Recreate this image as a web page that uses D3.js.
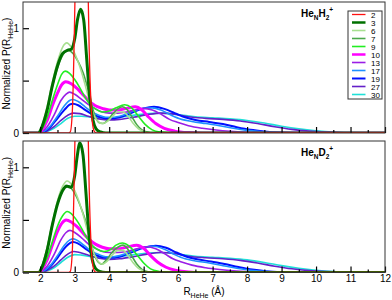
<!DOCTYPE html>
<html>
<head>
<meta charset="utf-8">
<script src="https://cdn.jsdelivr.net/npm/d3@7"></script>
<style>
  body { margin: 0; background: #fff; }
  svg { font-family: "Liberation Sans", Arial, sans-serif; }
</style>
</head>
<body>
<svg id="chart" width="392" height="300"></svg>
<script>
// legend names (number of He atoms)
var seriesNames = ["2", "3", "6", "7", "9", "10", "13", "17", "19", "27", "30"];
var colors = ["#ff1010", "#007000", "#a8e090", "#4aa84a", "#22ee22", "#ff00ff", "#9a1ee6", "#1e90ff", "#0010ff", "#6420c8", "#20e0d8"];
var widths = [1.3, 3, 1.6, 1.6, 1.6, 3, 1.6, 1.6, 2, 1.6, 1.6];

var xMajor = [2, 3, 4, 5, 6, 7, 8, 9, 10, 11, 12];
var xMinor = [2.5, 3.5, 4.5, 5.5, 6.5, 7.5, 8.5, 9.5, 10.5, 11.5];
var yTicks = [0, 0.5, 1];
var yLabels = ["0", "", "1"];

// He_N H2+  : [R, P]
var h2_n2 = [[1.5,0],[2.8,0],[2.87,0.01],[2.93,0.2],[2.98,0.8],[3.02,1.5],[3.08,2.7],[3.14,3.6],[3.2,3.9],[3.26,3.6],[3.32,2.7],[3.38,1.5],[3.42,0.8],[3.47,0.3],[3.52,0.08],[3.58,0.01],[3.65,0],[12,0]];
var h2_n3 = [[1.5,0],[1.95,0],[2.05,0.06],[2.2,0.22],[2.35,0.45],[2.5,0.64],[2.65,0.76],[2.8,0.79],[2.9,0.8],[3.0,0.9],[3.08,1.08],[3.17,1.18],[3.26,1.08],[3.35,0.7],[3.44,0.32],[3.53,0.12],[3.62,0.04],[3.75,0.01],[3.9,0],[12,0]];
var h2_n6 = [[1.5,0],[1.95,0],[2.05,0.07],[2.2,0.25],[2.35,0.48],[2.5,0.68],[2.65,0.82],[2.77,0.86],[2.9,0.82],[3.05,0.72],[3.2,0.58],[3.35,0.4],[3.5,0.22],[3.65,0.12],[3.8,0.09],[3.95,0.11],[4.1,0.16],[4.25,0.2],[4.4,0.2],[4.55,0.16],[4.7,0.09],[4.85,0.04],[5.0,0.015],[5.2,0],[12,0]];
var h2_n7 = [[1.5,0],[1.95,0],[2.05,0.06],[2.2,0.22],[2.35,0.44],[2.5,0.62],[2.65,0.74],[2.8,0.79],[2.95,0.76],[3.1,0.68],[3.25,0.57],[3.4,0.4],[3.55,0.2],[3.7,0.1],[3.82,0.09],[3.95,0.12],[4.1,0.18],[4.25,0.23],[4.38,0.25],[4.5,0.23],[4.65,0.16],[4.8,0.08],[4.95,0.03],[5.1,0.01],[5.3,0],[12,0]];
var h2_n9 = [[1.5,0],[1.95,0],[2.05,0.04],[2.2,0.15],[2.35,0.31],[2.5,0.46],[2.62,0.56],[2.72,0.59],[2.85,0.57],[3.0,0.51],[3.15,0.43],[3.3,0.34],[3.45,0.27],[3.6,0.23],[3.8,0.2],[4.0,0.21],[4.2,0.24],[4.45,0.27],[4.65,0.24],[4.85,0.16],[5.05,0.08],[5.25,0.03],[5.5,0.008],[5.8,0],[12,0]];
var h2_n10 = [[1.5,0],[1.95,0],[2.05,0.03],[2.2,0.12],[2.35,0.26],[2.5,0.38],[2.62,0.46],[2.74,0.49],[2.9,0.47],[3.05,0.43],[3.2,0.38],[3.4,0.31],[3.6,0.26],[3.8,0.235],[4.0,0.22],[4.25,0.22],[4.5,0.235],[4.75,0.25],[4.95,0.22],[5.15,0.15],[5.35,0.09],[5.6,0.045],[5.9,0.018],[6.3,0.004],[6.7,0],[12,0]];
var h2_n13 = [[1.5,0],[1.95,0],[2.05,0.015],[2.2,0.06],[2.4,0.17],[2.6,0.31],[2.75,0.37],[2.85,0.39],[3.0,0.37],[3.2,0.32],[3.4,0.27],[3.6,0.23],[3.8,0.2],[4.0,0.19],[4.25,0.19],[4.5,0.2],[4.75,0.22],[5.0,0.235],[5.25,0.22],[5.5,0.18],[5.75,0.13],[6.0,0.1],[6.3,0.07],[6.7,0.045],[7.1,0.028],[7.5,0.016],[8.0,0.007],[8.6,0.002],[9.2,0],[12,0]];
var h2_n17 = [[1.5,0],[1.95,0],[2.1,0.015],[2.3,0.07],[2.5,0.16],[2.7,0.26],[2.85,0.31],[2.95,0.32],[3.1,0.3],[3.3,0.25],[3.5,0.2],[3.7,0.17],[3.9,0.15],[4.1,0.15],[4.4,0.17],[4.7,0.21],[5.0,0.235],[5.25,0.24],[5.5,0.22],[5.8,0.17],[6.1,0.13],[6.4,0.11],[6.8,0.09],[7.2,0.07],[7.6,0.045],[8.0,0.025],[8.5,0.01],[9.0,0.003],[9.5,0],[12,0]];
var h2_n19 = [[1.5,0],[1.95,0],[2.1,0.012],[2.3,0.06],[2.5,0.14],[2.7,0.22],[2.85,0.27],[2.95,0.28],[3.1,0.265],[3.3,0.22],[3.5,0.18],[3.7,0.155],[3.9,0.14],[4.1,0.14],[4.4,0.16],[4.7,0.2],[5.0,0.235],[5.3,0.25],[5.6,0.23],[5.9,0.19],[6.2,0.15],[6.5,0.125],[6.9,0.105],[7.3,0.085],[7.7,0.055],[8.1,0.03],[8.5,0.015],[9.0,0.004],[9.5,0],[12,0]];
var h2_n27 = [[1.5,0],[2.0,0],[2.2,0.02],[2.4,0.06],[2.6,0.12],[2.8,0.17],[2.96,0.19],[3.15,0.185],[3.4,0.16],[3.7,0.135],[4.0,0.125],[4.3,0.13],[4.7,0.15],[5.1,0.175],[5.5,0.19],[5.9,0.18],[6.3,0.155],[6.8,0.14],[7.3,0.13],[7.8,0.115],[8.3,0.09],[8.8,0.06],[9.3,0.035],[9.8,0.018],[10.3,0.008],[10.8,0.002],[11.3,0],[12,0]];
var h2_n30 = [[1.5,0],[2.0,0],[2.2,0.015],[2.4,0.045],[2.6,0.09],[2.8,0.14],[3.0,0.16],[3.2,0.16],[3.5,0.15],[3.8,0.145],[4.1,0.145],[4.5,0.16],[5.0,0.18],[5.5,0.19],[6.0,0.175],[6.5,0.155],[7.0,0.145],[7.5,0.135],[8.0,0.12],[8.5,0.095],[9.0,0.065],[9.5,0.04],[10.0,0.022],[10.5,0.01],[11.0,0.004],[11.5,0.001],[12,0]];

// He_N D2+
var d2_n2 = [[1.5,0],[2.8,0],[2.87,0.01],[2.93,0.2],[2.98,0.8],[3.02,1.5],[3.08,2.8],[3.14,3.7],[3.2,4.0],[3.26,3.7],[3.32,2.8],[3.38,1.5],[3.42,0.8],[3.47,0.3],[3.52,0.08],[3.58,0.01],[3.65,0],[12,0]];
var d2_n3 = [[1.5,0],[1.95,0],[2.05,0.05],[2.2,0.21],[2.35,0.45],[2.5,0.65],[2.65,0.78],[2.78,0.82],[2.9,0.81],[3.0,0.92],[3.07,1.1],[3.15,1.23],[3.24,1.12],[3.33,0.74],[3.42,0.34],[3.51,0.12],[3.6,0.04],[3.72,0.01],[3.9,0],[12,0]];
var d2_n6 = [[1.5,0],[1.95,0],[2.05,0.06],[2.2,0.24],[2.35,0.47],[2.5,0.68],[2.65,0.82],[2.78,0.87],[2.92,0.83],[3.05,0.74],[3.2,0.6],[3.35,0.42],[3.5,0.23],[3.65,0.12],[3.8,0.08],[3.95,0.11],[4.1,0.17],[4.25,0.21],[4.4,0.21],[4.55,0.16],[4.7,0.09],[4.85,0.04],[5.0,0.015],[5.2,0],[12,0]];
var d2_n7 = [[1.5,0],[1.95,0],[2.05,0.06],[2.2,0.23],[2.35,0.46],[2.5,0.65],[2.63,0.77],[2.75,0.83],[2.9,0.8],[3.05,0.72],[3.2,0.6],[3.38,0.42],[3.53,0.21],[3.68,0.1],[3.78,0.08],[3.92,0.12],[4.08,0.19],[4.25,0.24],[4.4,0.26],[4.52,0.23],[4.65,0.16],[4.8,0.08],[4.95,0.03],[5.1,0.01],[5.3,0],[12,0]];
var d2_n9 = [[1.5,0],[1.95,0],[2.05,0.04],[2.2,0.14],[2.35,0.29],[2.5,0.44],[2.65,0.54],[2.78,0.58],[2.9,0.56],[3.05,0.5],[3.2,0.42],[3.35,0.33],[3.5,0.26],[3.65,0.22],[3.85,0.2],[4.05,0.22],[4.2,0.26],[4.38,0.28],[4.58,0.25],[4.8,0.17],[5.0,0.09],[5.2,0.035],[5.45,0.01],[5.8,0],[12,0]];
var d2_n10 = [[1.5,0],[1.95,0],[2.05,0.03],[2.2,0.12],[2.35,0.26],[2.5,0.39],[2.63,0.47],[2.75,0.5],[2.9,0.48],[3.05,0.44],[3.2,0.39],[3.4,0.32],[3.6,0.27],[3.8,0.24],[4.0,0.225],[4.25,0.225],[4.5,0.24],[4.8,0.26],[5.0,0.23],[5.2,0.16],[5.4,0.1],[5.65,0.05],[5.95,0.02],[6.3,0.005],[6.7,0],[12,0]];
var d2_n13 = [[1.5,0],[1.95,0],[2.05,0.015],[2.2,0.06],[2.4,0.17],[2.6,0.31],[2.75,0.38],[2.86,0.4],[3.0,0.38],[3.2,0.33],[3.4,0.27],[3.6,0.23],[3.8,0.2],[4.0,0.19],[4.25,0.19],[4.5,0.2],[4.8,0.225],[5.1,0.245],[5.35,0.225],[5.6,0.18],[5.85,0.13],[6.1,0.1],[6.4,0.07],[6.8,0.045],[7.2,0.028],[7.6,0.015],[8.1,0.006],[8.7,0.001],[9.2,0],[12,0]];
var d2_n17 = [[1.5,0],[1.95,0],[2.1,0.015],[2.3,0.07],[2.5,0.16],[2.7,0.26],[2.86,0.31],[2.96,0.32],[3.1,0.3],[3.3,0.25],[3.5,0.2],[3.7,0.17],[3.9,0.15],[4.1,0.15],[4.4,0.17],[4.7,0.21],[5.0,0.24],[5.3,0.25],[5.6,0.22],[5.9,0.17],[6.2,0.13],[6.5,0.11],[6.9,0.09],[7.3,0.065],[7.7,0.04],[8.1,0.022],[8.6,0.008],[9.1,0.002],[9.5,0],[12,0]];
var d2_n19 = [[1.5,0],[1.95,0],[2.1,0.012],[2.3,0.06],[2.5,0.14],[2.7,0.23],[2.86,0.28],[2.96,0.29],[3.1,0.275],[3.3,0.23],[3.5,0.185],[3.7,0.155],[3.9,0.14],[4.1,0.14],[4.4,0.16],[4.7,0.2],[5.0,0.235],[5.35,0.255],[5.65,0.235],[5.95,0.19],[6.25,0.15],[6.55,0.125],[6.95,0.105],[7.35,0.08],[7.75,0.052],[8.15,0.028],[8.55,0.013],[9.0,0.004],[9.5,0],[12,0]];
var d2_n27 = [[1.5,0],[2.0,0],[2.2,0.02],[2.4,0.06],[2.6,0.12],[2.8,0.175],[2.97,0.2],[3.15,0.19],[3.4,0.165],[3.7,0.135],[4.0,0.125],[4.3,0.13],[4.7,0.15],[5.1,0.175],[5.5,0.19],[5.9,0.18],[6.3,0.155],[6.8,0.14],[7.3,0.13],[7.8,0.115],[8.3,0.09],[8.8,0.06],[9.3,0.035],[9.8,0.018],[10.3,0.008],[10.8,0.002],[11.3,0],[12,0]];
var d2_n30 = [[1.5,0],[2.0,0],[2.2,0.015],[2.4,0.045],[2.6,0.095],[2.8,0.145],[3.0,0.17],[3.2,0.165],[3.5,0.15],[3.8,0.145],[4.1,0.145],[4.5,0.16],[5.0,0.18],[5.5,0.19],[6.0,0.175],[6.5,0.155],[7.0,0.145],[7.5,0.135],[8.0,0.12],[8.5,0.095],[9.0,0.065],[9.5,0.04],[10.0,0.022],[10.5,0.01],[11.0,0.004],[11.5,0.001],[12,0]];

var h2Series = [h2_n2, h2_n3, h2_n6, h2_n7, h2_n9, h2_n10, h2_n13, h2_n17, h2_n19, h2_n27, h2_n30];
var d2Series = [d2_n2, d2_n3, d2_n6, d2_n7, d2_n9, d2_n10, d2_n13, d2_n17, d2_n19, d2_n27, d2_n30];

var svg = d3.select("#chart");
var left = 23, right = 385;
var panels = [
    {top: 2, bottom: 133, series: h2Series, isotope: "H", showX: false, legend: true},
    {top: 141, bottom: 272.5, series: d2Series, isotope: "D", showX: true, legend: false}
];

var x = d3.scaleLinear().domain([1.5, 12]).range([left, right]);

panels.forEach(function(p, pi) {
    var y = d3.scaleLinear().domain([0, 1.25]).range([p.bottom, p.top]);
    var g = svg.append("g");

    g.append("clipPath").attr("id", "clip" + pi)
        .append("rect")
        .attr("x", left).attr("y", p.top)
        .attr("width", right - left).attr("height", p.bottom - p.top);

    var line = d3.line()
        .x(function(d) { return x(d[0]); })
        .y(function(d) { return y(d[1]); })
        .curve(d3.curveMonotoneX);

    // draw back to front, small N on top
    var order = d3.range(p.series.length).reverse();
    var curves = g.append("g").attr("clip-path", "url(#clip" + pi + ")");
    order.forEach(function(i) {
        curves.append("path")
            .datum(p.series[i])
            .attr("d", line)
            .attr("fill", "none")
            .attr("stroke", colors[i])
            .attr("stroke-width", widths[i])
            .attr("stroke-linejoin", "round");
    });

    // axes, ticks inside
    var xAxis = d3.axisBottom(x).tickValues(xMajor).tickSizeInner(-6).tickSizeOuter(0).tickPadding(2);
    if (!p.showX) xAxis.tickFormat("");
    var xa = g.append("g").attr("transform", "translate(0," + p.bottom + ")").call(xAxis);
    var xm = g.append("g").attr("transform", "translate(0," + p.bottom + ")")
        .call(d3.axisBottom(x).tickValues(xMinor).tickSizeInner(-3).tickSizeOuter(0).tickFormat(""));
    xm.select(".domain").remove();

    var ya = g.append("g").attr("transform", "translate(" + left + ",0)")
        .call(d3.axisLeft(y).tickValues(yTicks).tickSizeInner(-6).tickSizeOuter(0).tickPadding(4)
            .tickFormat(function(d, i) { return yLabels[i]; }));

    [xa, ya].forEach(function(a) {
        a.selectAll(".domain").remove();
        a.selectAll("text").attr("font-size", 10).attr("fill", "#000")
            .attr("font-family", "Liberation Sans, Arial, sans-serif");
        a.selectAll(".tick line").attr("stroke", "#000").attr("stroke-width", 1.2);
    });
    xm.selectAll(".tick line").attr("stroke", "#000").attr("stroke-width", 1.2);

    // frame
    g.append("rect")
        .attr("x", left).attr("y", p.top)
        .attr("width", right - left).attr("height", p.bottom - p.top)
        .attr("fill", "none").attr("stroke", "#333").attr("stroke-width", 1);

    // y title
    var yt = g.append("text")
        .attr("transform", "translate(10," + ((p.top + p.bottom) / 2 - 4) + ") rotate(-90)")
        .attr("text-anchor", "middle")
        .attr("font-size", 10);
    yt.append("tspan").text("Normalized P(R");
    yt.append("tspan").attr("font-size", 7).attr("dy", 2.5).text("HeHe");
    yt.append("tspan").attr("dy", -2.5).text(")");

    // species label
    var lb = g.append("text")
        .attr("x", 301).attr("y", p.top + 15)
        .attr("font-size", 10).attr("font-weight", "bold");
    lb.append("tspan").text("He");
    lb.append("tspan").attr("font-size", 6.5).attr("dy", 3).text("N");
    lb.append("tspan").attr("dy", -3).text(p.isotope);
    lb.append("tspan").attr("font-size", 6.5).attr("dy", 3).text("2");
    lb.append("tspan").attr("font-size", 6.5).attr("dy", -8).text("+");

    if (p.showX) {
        var xt = svg.append("text")
            .attr("x", (left + right) / 2).attr("y", 295)
            .attr("text-anchor", "middle")
            .attr("font-size", 10);
        xt.append("tspan").text("R");
        xt.append("tspan").attr("font-size", 7).attr("dy", 2.5).text("HeHe");
        xt.append("tspan").attr("dy", -2.5).text(" (\u00C5)");
    }

    if (p.legend) {
        var lg = g.append("g").attr("transform", "translate(348,11)");
        lg.append("rect").attr("width", 34).attr("height", 88)
            .attr("fill", "#fff").attr("stroke", "#333").attr("stroke-width", 1);
        seriesNames.forEach(function(name, i) {
            var yy = 3.5 + i * 8;
            lg.append("line")
                .attr("x1", 4).attr("x2", 17.5).attr("y1", yy).attr("y2", yy)
                .attr("stroke", colors[i]).attr("stroke-width", Math.min(widths[i], 2.5));
            lg.append("text").attr("x", 23).attr("y", yy + 3)
                .attr("font-size", 8).text(name);
        });
    }
});
</script>
</body>
</html>
